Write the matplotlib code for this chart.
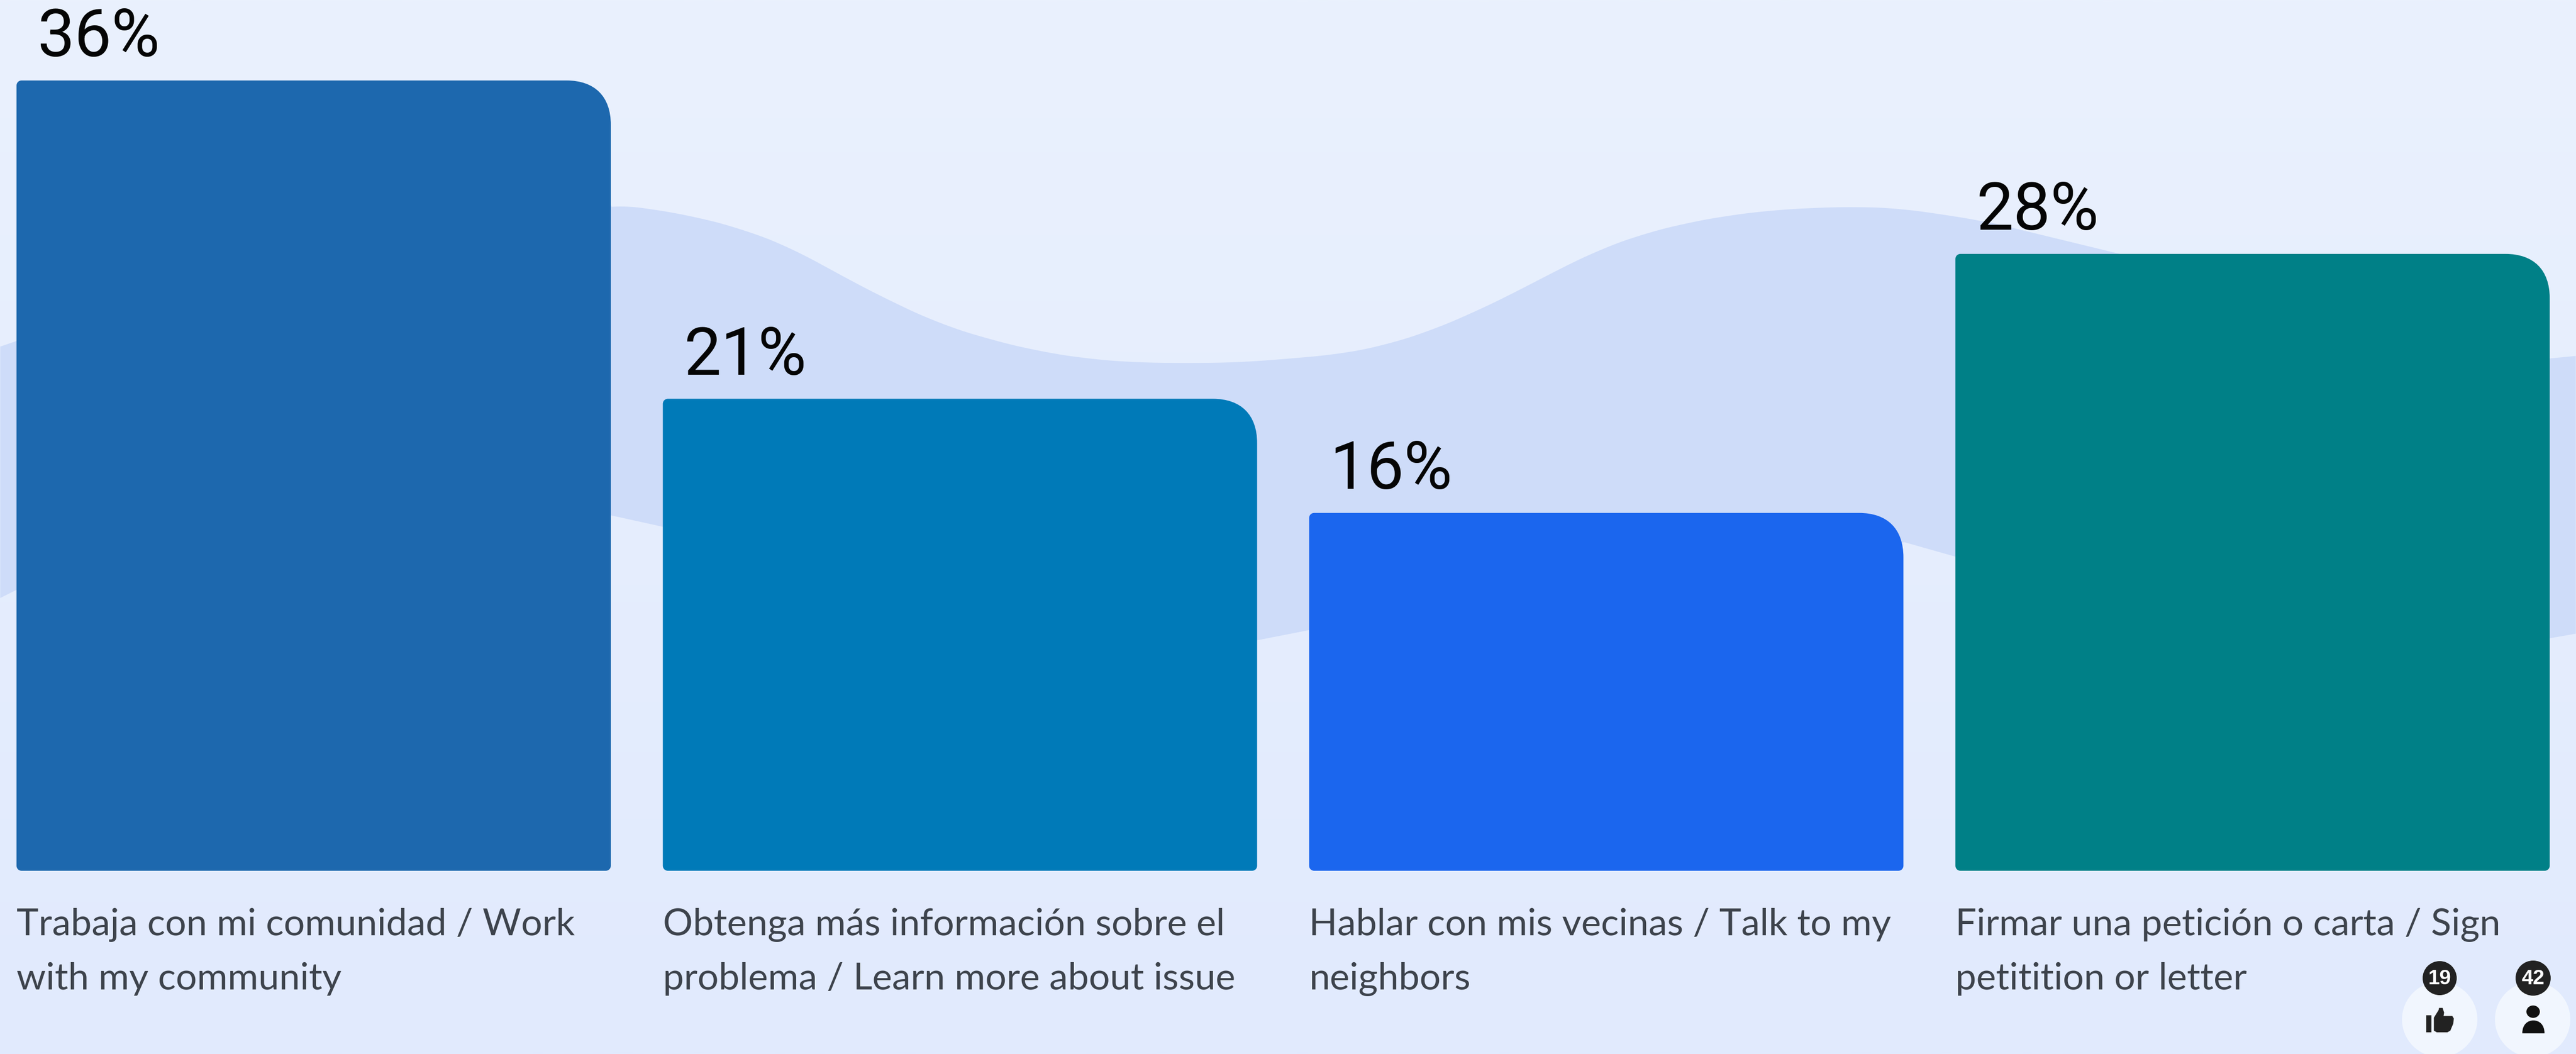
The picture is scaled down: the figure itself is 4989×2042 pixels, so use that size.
import numpy as np
import matplotlib
matplotlib.use("Agg")
import matplotlib.pyplot as plt
from matplotlib.path import Path
from matplotlib.patches import PathPatch, Circle, Ellipse, Polygon

# ---- data ----
category_lines = [
    ["Trabaja con mi comunidad / Work", "with my community"],
    ["Obtenga más información sobre el", "problema / Learn more about issue"],
    ["Hablar con mis vecinas / Talk to my", "neighbors"],
    ["Firmar una petición o carta / Sign", "petitition or letter"],
]
values = [36.0, 21.5, 16.3, 28.1]
value_labels = ["36%", "21%", "16%", "28%"]
bar_colors = ["#1D68AE", "#007AB8", "#1B66EE", "#008087"]
like_count = "19"
people_count = "42"

# decorative wave behind the bars (figure pixels)
wave_top_x = [0, 32, 1183, 1246, 1341, 1437, 1533, 1628, 1724, 1820, 1915, 2011, 2107, 2202, 2298,
              2394, 2490, 2600, 2683, 2766, 2849, 2932, 3015, 3097, 3180, 3263, 3346, 3429, 3512,
              3595, 3678, 3761, 3844, 4938, 4989]
wave_top_y = [671, 660, 395, 402, 418, 443, 480, 533, 583, 627, 657, 680, 695, 702, 703,
              702, 695, 685, 668, 642, 607, 567, 523, 483, 453, 432, 417, 407, 402,
              400, 403, 415, 428, 694, 689]
wave_bot_x = [0, 32, 1183, 1283, 2434, 2536, 3688, 3787, 4938, 4989]
wave_bot_y = [1158, 1142, 998, 1020, 1240, 1220, 1050, 1078, 1236, 1227]

# ---- layout ----
W, H = 4989, 2042
PX = 72 / 100  # points per pixel at dpi 100
fig = plt.figure(figsize=(W / 100, H / 100), dpi=100)

bg = fig.add_axes([0, 0, 1, 1], zorder=0)
bg.set_xlim(0, W); bg.set_ylim(H, 0); bg.axis("off")
top_c = np.array(matplotlib.colors.to_rgb("#EAF1FD"))
bot_c = np.array(matplotlib.colors.to_rgb("#E1EAFE"))
t = np.linspace(0, 1, 256)[:, None, None]
bg.imshow(top_c[None, None, :] * (1 - t) + bot_c[None, None, :] * t,
          extent=[0, W, H, 0], aspect="auto", interpolation="bilinear")
bg.set_xlim(0, W); bg.set_ylim(H, 0)
xs = np.arange(0, W + 1, 2.0)
top_dense = np.interp(xs, wave_top_x, wave_top_y)
# soften the polyline corners of the wave's upper edge
win = 61
mask = (xs > 1183) & (xs < 3844)
smooth = np.convolve(np.pad(top_dense, win // 2, mode="edge"), np.ones(win) / win, mode="valid")
top_dense = np.where(mask, smooth, top_dense)
bg.fill_between(xs, top_dense, np.interp(xs, wave_bot_x, wave_bot_y), color="#CEDCF9", lw=0)

ax = fig.add_axes([0, 0, 1, 1], zorder=1)
ax.patch.set_alpha(0)
STEP = 1251.7; SCALE = 42.53
ax.set_xlim(-607.5 / STEP, (W - 607.5) / STEP)
ax.set_ylim(-(H - 1687) / SCALE, 1687 / SCALE)
ax.axis("off")
BAR_W = 1151 / STEP


def bar_path(cx, val, w):
    x0, x1 = cx - w / 2, cx + w / 2
    big_x, big_y = 86 / STEP, 86 / SCALE
    sx, sy = 10 / STEP, 10 / SCALE
    k, kb = 0.42, 0.36
    v = [(x0 + sx, 0), (x1 - sx, 0),
         (x1 - sx * k, 0), (x1, sy * k), (x1, sy),
         (x1, val - big_y),
         (x1, val - big_y * kb), (x1 - big_x * kb, val), (x1 - big_x, val),
         (x0 + sx, val),
         (x0 + sx * k, val), (x0, val - sy * k), (x0, val - sy),
         (x0, sy),
         (x0, sy * k), (x0 + sx * k, 0), (x0 + sx, 0), (x0 + sx, 0)]
    c = [Path.MOVETO, Path.LINETO,
         Path.CURVE4, Path.CURVE4, Path.CURVE4,
         Path.LINETO,
         Path.CURVE4, Path.CURVE4, Path.CURVE4,
         Path.LINETO,
         Path.CURVE4, Path.CURVE4, Path.CURVE4,
         Path.LINETO,
         Path.CURVE4, Path.CURVE4, Path.CURVE4, Path.CLOSEPOLY]
    return Path(v, c)


LABEL_FONT = ["Lato", "DejaVu Sans"]
VALUE_FONT = ["Roboto", "Liberation Sans", "DejaVu Sans"]
for i, (val, lab, col, lines) in enumerate(zip(values, value_labels, bar_colors, category_lines)):
    ax.add_patch(PathPatch(bar_path(i, val, BAR_W), facecolor=col, edgecolor="none"))
    left = i - BAR_W / 2
    ax.annotate(lab, (left, val), xytext=(40 * PX, 47 * PX), textcoords="offset points",
                ha="left", va="baseline", fontsize=128 * PX, color="#050505",
                family=VALUE_FONT)
    for j, line in enumerate(lines):
        ax.annotate(line, (left, 0), xytext=(0, -(125 + 105 * j) * PX), textcoords="offset points",
                    ha="left", va="baseline", fontsize=52, color="#3D434C", family=LABEL_FONT)

# ---- reaction icons ----
ic = fig.add_axes([0, 0, 1, 1], zorder=2)
ic.set_xlim(0, W); ic.set_ylim(H, 0); ic.axis("off"); ic.patch.set_alpha(0)
for cx in (4725, 4905):
    ic.add_patch(Circle((cx, 1975), 73, facecolor="#F1F6FE", edgecolor="none"))
for cx, r, txt in ((4725, 33, like_count), (4906, 34, people_count)):
    ic.add_patch(Circle((cx, 1895), r, facecolor="#222222", edgecolor="none"))
    ic.text(cx, 1896, txt, ha="center", va="center", color="white",
            fontsize=29, fontweight="bold", family=["Liberation Sans", "DejaVu Sans"])
ic.add_patch(Polygon([(4699, 1967), (4709, 1967), (4709, 2000), (4699, 2000)], closed=True,
                     facecolor="#222222", edgecolor="none"))
ic.add_patch(Polygon([(4713.7, 1971.7), (4723, 1956.7), (4723.8, 1952.7), (4730.6, 1952.7),
                      (4733.6, 1961.7), (4732.5, 1968.3), (4749.4, 1968.3), (4752.4, 1973.3),
                      (4751.2, 1983.3), (4745.6, 1996.7), (4740, 2000), (4719.3, 2000),
                      (4713.7, 1996.7)], closed=True, facecolor="#222222", edgecolor="none"))
ic.add_patch(Ellipse((4906, 1960), 26, 24, facecolor="#111111", edgecolor="none"))
ic.add_patch(PathPatch(Path([(4885, 2002), (4885, 1985), (4895, 1977), (4906.5, 1977),
                             (4918, 1977), (4928, 1985), (4928, 2002), (4885, 2002)],
                            [Path.MOVETO, Path.CURVE4, Path.CURVE4, Path.CURVE4,
                             Path.CURVE4, Path.CURVE4, Path.CURVE4, Path.CLOSEPOLY]),
                       facecolor="#111111", edgecolor="none"))

fig.savefig("out.png", dpi=100)
